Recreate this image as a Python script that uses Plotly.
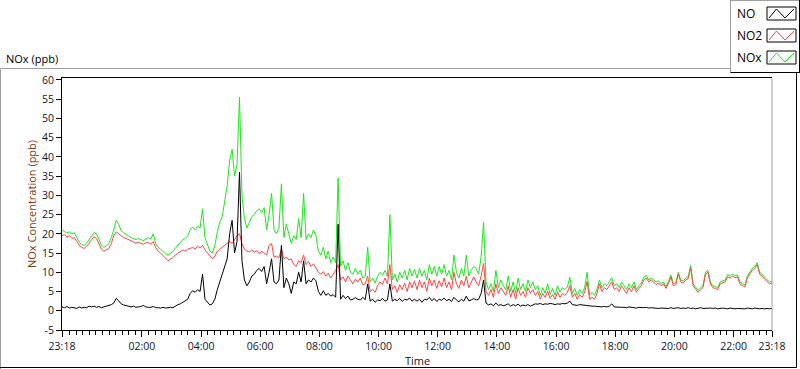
import pandas as pd
import plotly.graph_objects as go

# ---------------- data (5-minute samples) ----------------
START_TIME = "2015-03-10 23:18"
SAMPLE_STEP = "5min"

no = [
    1.0, 0.8, 1.1, 0.7, 0.9, 0.8, 0.6, 1.0, 0.7, 0.9, 0.8, 1.2,
    1.0, 1.2, 0.9, 1.1, 0.8, 1.0, 1.2, 1.3, 1.6, 2.0, 3.2, 2.6,
    1.8, 1.5, 1.3, 1.1, 1.0, 1.2, 0.9, 1.0, 1.1, 1.4, 1.0, 0.9,
    0.9, 1.1, 0.8, 0.8, 0.7, 0.9, 0.7, 0.8, 0.9, 0.8, 1.3, 1.6,
    1.8, 2.2, 2.8, 3.0, 4.5, 5.2, 4.8, 5.5, 5.0, 9.5, 3.0, 2.2,
    1.5, 1.8, 3.0, 5.5, 7.5, 9.0, 11.5, 13.5, 20.0, 23.5, 15.0, 18.0,
    36.0, 13.0, 8.0, 6.5, 7.5, 9.0, 9.5, 10.5, 11.0, 10.2, 11.5, 7.0,
    10.0, 13.5, 7.5, 7.0, 8.0, 17.0, 6.0, 8.5, 7.0, 4.5, 7.5, 7.0,
    10.0, 7.5, 13.0, 7.0, 8.0, 7.5, 8.5, 7.8, 5.0, 4.0, 5.2, 4.0,
    4.5, 3.8, 4.2, 3.5, 22.5, 3.0, 4.0, 3.2, 3.8, 2.8, 3.0, 3.4,
    3.0, 2.8, 3.5, 2.9, 7.0, 2.5, 3.0, 2.2, 2.8, 2.6, 3.2, 2.5,
    2.8, 7.0, 2.5, 3.0, 2.6, 3.2, 2.4, 3.0, 2.8, 3.3, 2.5, 3.0,
    2.5, 3.0, 2.2, 3.0, 2.8, 3.5, 2.6, 3.2, 2.4, 3.0, 2.7, 3.3,
    2.6, 3.0, 2.4, 3.5, 2.8, 2.3, 3.0, 2.5, 3.8, 2.6, 2.8, 3.2,
    2.8, 3.0, 4.5, 8.0, 2.0, 1.5, 1.8, 1.3, 2.0, 1.4, 1.6, 1.3,
    1.5, 1.8, 1.2, 1.6, 1.3, 1.7, 1.2, 1.5, 1.3, 1.6, 1.2, 1.4,
    1.8, 1.7, 1.9, 1.6, 1.8, 1.7, 1.9, 1.8, 1.6, 1.8, 1.7, 1.9,
    1.8, 2.0, 2.5, 1.6, 1.5, 1.4, 1.6, 1.5, 1.5, 1.3, 1.2, 1.2,
    1.2, 1.1, 1.2, 1.0, 1.1, 1.0, 1.2, 1.8, 1.0, 0.9, 1.0, 0.9,
    0.9, 0.8, 1.0, 0.9, 0.8, 0.7, 0.9, 0.8, 0.8, 0.9, 0.7, 0.8,
    0.7, 0.8, 0.6, 0.7, 0.6, 0.7, 0.6, 0.8, 0.6, 0.7, 0.8, 0.6,
    0.7, 0.6, 0.8, 0.6, 0.7, 0.5, 0.6, 0.8, 0.6, 0.7, 0.6, 0.7,
    0.6, 0.7, 0.5, 0.6, 0.7, 0.6, 0.5, 0.7, 0.6, 0.5, 0.6, 0.6,
    0.6, 0.5, 0.7, 0.6, 0.5, 0.7, 0.6, 0.5, 0.6, 0.5, 0.6, 0.5, 0.6,
]

no2 = [
    19.5, 19.8, 19.2, 19.5, 18.8, 19.0, 18.0, 17.0, 16.5, 16.2, 16.8, 17.5,
    18.5, 19.2, 18.8, 17.5, 16.0, 15.5, 15.8, 16.2, 17.5, 19.5, 20.5, 20.0,
    19.5, 19.0, 18.8, 18.5, 18.0, 17.8, 17.6, 17.8, 17.5, 17.3, 17.6, 17.8,
    17.3, 18.0, 16.5, 15.5, 15.0, 14.3, 13.5, 13.0, 13.4, 13.8, 14.5, 15.0,
    15.5, 15.8, 15.5, 16.0, 16.2, 16.5, 16.0, 16.8, 16.3, 17.0, 15.8, 15.0,
    14.0, 13.5, 14.2, 15.5, 16.0, 16.5, 17.0, 17.5, 18.0, 17.5, 18.5, 19.5,
    20.0, 17.5, 16.0, 15.5, 15.3, 15.8, 15.2, 15.6, 14.8, 15.4, 15.0, 14.5,
    17.0, 17.5, 14.0, 14.2, 13.8, 16.0, 13.5, 14.0, 13.2, 13.5, 12.0, 11.5,
    13.0, 12.5, 14.5, 12.0, 12.8, 11.5, 12.2, 11.0, 10.0, 9.5, 10.2, 9.0,
    9.8, 8.5, 9.5, 10.5, 12.0, 8.0, 8.8, 7.5, 9.0, 7.8, 7.0, 8.2,
    7.5, 8.5, 6.8, 7.0, 9.0, 5.0, 5.5, 4.8, 6.5, 7.5, 6.8, 8.5,
    7.0, 12.0, 5.5, 6.5, 4.8, 6.8, 5.5, 7.2, 5.0, 7.5, 6.0, 7.8,
    5.5, 8.0, 6.0, 7.5, 5.0, 8.5, 6.5, 8.0, 5.8, 7.8, 6.2, 8.5,
    6.0, 7.5, 5.5, 10.0, 7.0, 5.8, 8.0, 6.5, 9.0, 6.0, 7.5, 8.8,
    7.5, 6.5, 9.0, 12.3, 5.0, 4.0, 5.5, 3.5, 7.0, 4.5, 6.0, 5.0,
    4.0, 6.5, 3.5, 5.5, 3.0, 6.0, 4.0, 5.0, 3.5, 6.0, 4.5, 5.5,
    4.0, 5.0, 3.0, 4.5, 3.5, 5.0, 3.2, 4.2, 3.0, 4.8, 3.5, 4.5,
    4.0, 4.8, 6.6, 3.5, 4.5, 3.0, 4.2, 3.5, 4.8, 7.6, 3.0, 3.5,
    3.0, 4.5, 7.0, 5.0, 6.0, 5.5, 6.5, 7.5, 5.5, 6.0, 5.0, 6.5,
    5.5, 4.5, 6.0, 5.0, 6.5, 4.8, 5.8, 6.5, 8.0, 8.5, 7.5, 8.0,
    7.5, 6.8, 7.2, 6.5, 7.0, 5.8, 7.0, 8.8, 6.5, 6.8, 9.5, 7.5,
    7.2, 8.0, 8.3, 11.2, 6.5, 5.5, 4.8, 5.5, 6.0, 9.5, 10.0, 7.0,
    6.0, 5.8, 5.5, 7.0, 7.2, 7.5, 8.8, 8.5, 9.0, 8.6, 8.8, 7.0,
    6.5, 6.2, 8.5, 9.5, 10.5, 11.0, 12.0, 9.5, 9.0, 8.2, 7.5, 7.0, 7.2,
]

nox = [
    21.0, 20.5, 20.2, 20.5, 20.0, 20.3, 19.0, 17.8, 17.2, 17.0, 17.6, 18.5,
    19.5, 20.3, 20.0, 18.5, 17.0, 16.5, 16.8, 17.5, 19.0, 21.0, 23.5, 22.5,
    20.8, 20.3, 20.0, 19.5, 19.0, 18.8, 18.5, 18.8, 18.4, 18.2, 18.6, 19.0,
    18.6, 20.0, 17.5, 16.5, 16.0, 15.3, 14.8, 14.5, 15.0, 15.4, 16.3, 17.0,
    17.8, 18.5, 18.8, 19.5, 21.0, 21.8, 21.0, 22.0, 21.5, 26.5, 19.0, 17.5,
    15.5, 15.0, 17.0, 20.5, 23.0, 24.5, 28.0, 32.5, 39.0, 42.0, 35.0, 38.0,
    55.5, 30.0, 24.0, 21.5, 23.0, 24.5, 25.0, 26.0, 26.5, 25.5, 26.8, 21.0,
    25.0, 30.5, 21.0, 20.0, 21.5, 33.0, 19.0, 22.5, 20.0, 17.5, 19.5, 18.5,
    24.0, 19.0, 30.5, 18.5, 20.0, 19.0, 21.0, 19.5, 15.5, 14.5, 16.5, 13.5,
    15.5, 12.5, 14.0, 12.5, 34.5, 11.5, 13.0, 10.5, 12.5, 10.0, 9.5, 11.0,
    9.5, 10.5, 8.5, 9.0, 16.5, 7.5, 8.5, 7.2, 9.0, 10.0, 9.2, 10.5,
    9.0, 25.0, 8.0, 9.5, 7.5, 10.0, 8.5, 10.5, 8.0, 11.0, 9.0, 10.8,
    8.5, 11.0, 9.0, 10.5, 8.0, 12.0, 9.5, 11.5, 9.0, 11.5, 9.5, 12.0,
    9.0, 10.5, 8.0, 14.5, 10.0, 8.5, 11.0, 9.0, 14.5, 9.0, 10.5, 11.5,
    11.0, 9.5, 14.0, 23.0, 7.5, 5.5, 7.0, 5.0, 10.5, 6.0, 8.0, 6.5,
    5.5, 9.0, 5.0, 7.5, 4.5, 8.5, 5.5, 7.0, 5.0, 8.0, 6.0, 7.5,
    5.5, 6.5, 4.0, 6.0, 4.5, 7.0, 4.2, 5.8, 4.0, 6.5, 4.8, 6.0,
    5.5, 6.2, 8.7, 4.5, 5.8, 4.0, 5.5, 4.5, 6.0, 10.0, 4.0, 4.8,
    4.0, 5.5, 8.0, 6.0, 7.0, 6.5, 7.5, 8.6, 6.5, 7.0, 6.0, 7.5,
    6.5, 5.5, 7.0, 6.0, 7.5, 5.5, 6.5, 7.2, 8.8, 9.2, 8.0, 8.5,
    8.0, 7.5, 7.8, 7.0, 7.5, 6.3, 7.6, 9.3, 7.0, 7.3, 10.0, 8.0,
    7.8, 8.5, 8.8, 11.8, 7.0, 6.0, 5.3, 6.0, 6.5, 10.0, 10.5, 7.5,
    6.5, 6.3, 6.0, 7.5, 7.8, 8.0, 9.4, 9.0, 9.5, 9.2, 9.3, 7.5,
    7.0, 6.7, 9.0, 10.0, 11.0, 11.5, 12.5, 10.0, 9.5, 8.7, 8.0, 7.5, 7.7,
]

tick_times = [
    "2015-03-10 23:18", "2015-03-11 02:00", "2015-03-11 04:00", "2015-03-11 06:00",
    "2015-03-11 08:00", "2015-03-11 10:00", "2015-03-11 12:00", "2015-03-11 14:00",
    "2015-03-11 16:00", "2015-03-11 18:00", "2015-03-11 20:00", "2015-03-11 22:00",
    "2015-03-11 23:18",
]
tick_labels = ["23:18", "02:00", "04:00", "06:00", "08:00", "10:00", "12:00",
               "14:00", "16:00", "18:00", "20:00", "22:00", "23:18"]
y_ticks = [-5, 0, 5, 10, 15, 20, 25, 30, 35, 40, 45, 50, 55, 60]

times = pd.date_range(START_TIME, periods=len(no), freq=SAMPLE_STEP)

# ---------------- layout geometry ----------------
W, H = 800, 369
L, R, T, B = 62, 28, 78, 39
PW, PH = W - L - R, H - T - B


def px(x):
    return (x - L) / PW


def py(y):
    return (H - B - y) / PH


FONT = "Open Sans, Segoe UI, sans-serif"
LABEL = "#14142e"

fig = go.Figure()
fig.add_trace(go.Scatter(x=times, y=nox, name="NOx", mode="lines",
                         line=dict(color="#1ee61e", width=1), showlegend=False))
fig.add_trace(go.Scatter(x=times, y=no2, name="NO2", mode="lines",
                         line=dict(color="#ff4444", width=1), showlegend=False))
fig.add_trace(go.Scatter(x=times, y=no, name="NO", mode="lines",
                         line=dict(color="#000000", width=1), showlegend=False))

shapes = []


def seg(x0, y0, x1, y1, color, width=1):
    shapes.append(dict(type="line", xref="paper", yref="paper",
                       x0=px(x0), y0=py(y0), x1=px(x1), y1=py(y1),
                       line=dict(color=color, width=width), layer="above"))


# outer frame
seg(0.5, 68.5, 730, 68.5, "#a0a0a0")
seg(0.5, 68.5, 0.5, 369, "#a0a0a0")
seg(0, 367.5, 796.5, 367.5, "#000000")
seg(796.5, 73, 796.5, 367.5, "#000000")
# plot right edge
seg(772, 78, 772, 330, "#a0a0a0")
# legend box
seg(730.5, 0, 730.5, 73, "#a0a0a0")
seg(730.5, 0.5, 799.5, 0.5, "#a0a0a0")
seg(799.5, 0, 799.5, 73, "#000000")
seg(730.5, 72.5, 799.5, 72.5, "#000000")

legend_items = [("NO", "#000000", 7), ("NO2", "#ff4444", 29), ("NOx", "#1ee61e", 51)]
annotations = []
for name, col, top in legend_items:
    shapes.append(dict(type="rect", xref="paper", yref="paper",
                       x0=px(767), y0=py(top), x1=px(796), y1=py(top + 13),
                       line=dict(color="#000000", width=1), fillcolor="white"))
    pts = [(769, top + 11), (776.5, top + 2), (785, top + 11), (794, top + 2)]
    path = "M " + " L ".join(f"{px(a):.5f},{py(b):.5f}" for a, b in pts)
    shapes.append(dict(type="path", xref="paper", yref="paper", path=path,
                       line=dict(color=col, width=1)))
    annotations.append(dict(text=name, xref="paper", yref="paper",
                            x=px(735), y=py(top + 6.5), xanchor="left", yanchor="middle",
                            showarrow=False, font=dict(family=FONT, size=12, color="#000000")))

annotations += [
    dict(text="NOx (ppb)", xref="paper", yref="paper", x=px(4), y=py(58),
         xanchor="left", yanchor="middle", showarrow=False,
         font=dict(family=FONT, size=11, color="#000000")),
    dict(text="NOx Concentration (ppb)", xref="paper", yref="paper", x=px(31), y=0.5,
         xanchor="center", yanchor="middle", textangle=-90, showarrow=False,
         font=dict(family=FONT, size=11, color="#7a3c10")),
    dict(text="Time", xref="paper", yref="paper", x=0.5, y=py(360),
         xanchor="center", yanchor="middle", showarrow=False,
         font=dict(family=FONT, size=11, color=LABEL)),
]

fig.update_layout(
    width=W, height=H,
    margin=dict(l=L, r=R, t=T, b=B, pad=0),
    paper_bgcolor="white", plot_bgcolor="white",
    showlegend=False,
    shapes=shapes, annotations=annotations,
    xaxis=dict(
        type="date",
        range=[tick_times[0], tick_times[-1]],
        tickmode="array", tickvals=tick_times, ticktext=tick_labels,
        ticks="outside", ticklen=6, tickcolor="#000000", tickwidth=1,
        minor=dict(ticks="outside", ticklen=4, tickcolor="#000000",
                   tick0="2015-03-11 00:00", dtick=800000, showgrid=False),
        showline=True, linecolor="#000000", linewidth=1, mirror=True,
        showgrid=False, zeroline=False,
        tickfont=dict(family=FONT, size=10.5, color=LABEL),
    ),
    yaxis=dict(
        range=[-5, 60.5],
        tickmode="array", tickvals=y_ticks, ticktext=[str(v) for v in y_ticks],
        ticks="outside", ticklen=5, tickcolor="#000000", tickwidth=1,
        showline=True, linecolor="#000000", linewidth=1,
        showgrid=False, zeroline=False,
        tickfont=dict(family=FONT, size=10.5, color=LABEL),
    ),
)

fig.write_html(
    "out.html",
    config={"displayModeBar": False},
    post_script="document.body.style.margin='0';document.body.style.overflow='hidden';",
)
